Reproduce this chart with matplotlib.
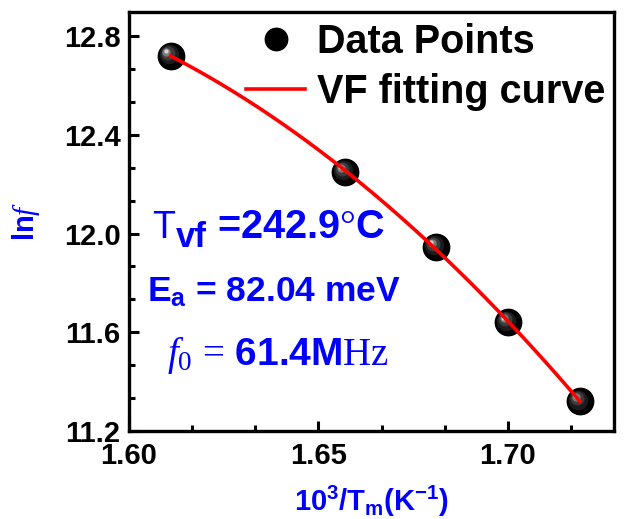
import numpy as np
import matplotlib
matplotlib.use("Agg")
import matplotlib.pyplot as plt
from matplotlib.ticker import MultipleLocator, FormatStrFormatter
from matplotlib.transforms import offset_copy

# data
inv_tm = [1.611, 1.657, 1.681, 1.700, 1.719]
ln_f = [12.72, 12.25, 11.945, 11.64, 11.32]

BLUE = "#0000ff"

plt.rcParams["font.family"] = "Liberation Sans"
plt.rcParams["font.weight"] = "bold"
plt.rcParams["mathtext.fontset"] = "custom"
plt.rcParams["mathtext.rm"] = "Liberation Sans:weight=bold"
plt.rcParams["mathtext.bf"] = "Liberation Sans:weight=bold"
plt.rcParams["mathtext.it"] = "Liberation Serif:style=italic:weight=normal"
plt.rcParams["mathtext.sf"] = "Liberation Sans:weight=normal"
plt.rcParams["mathtext.cal"] = "Liberation Serif:weight=normal"

fig = plt.figure(figsize=(6.26, 5.19), dpi=100)
ax = fig.add_axes([0.206, 0.1696, 0.775, 0.807])

x = np.array(inv_tm)
y = np.array(ln_f)

# shiny black spheres
pts, = ax.plot(x, y, "o", ms=19, color="black", zorder=3, label="Data Points")
shades = [("#1c1c1c", 14, -1.2, 1.2), ("#3c3c3c", 10, -2.2, 2.2),
          ("#7a7a7a", 6, -3.0, 3.0), ("#d5d5d5", 3, -3.5, 3.5)]
for col, ms, dx, dy in shades:
    tr = offset_copy(ax.transData, fig=fig, x=dx, y=dy, units="points")
    ax.plot(x, y, "o", ms=ms, color=col, mec="none", transform=tr, zorder=4)

# fitted curve (quadratic through the data points), drawn over the spheres
coef = np.polyfit(x, y, 2)
xf = np.linspace(x.min(), x.max(), 200)
fit, = ax.plot(xf, np.polyval(coef, xf), color="red", lw=2.6, zorder=5,
               label="VF fitting curve")

ax.set_xlim(1.60, 1.728)
ax.set_ylim(11.2, 12.897)
ax.xaxis.set_major_locator(MultipleLocator(0.05))
ax.xaxis.set_minor_locator(MultipleLocator(0.05 / 3))
ax.yaxis.set_major_locator(MultipleLocator(0.4))
ax.yaxis.set_minor_locator(MultipleLocator(0.4 / 3))
ax.xaxis.set_major_formatter(FormatStrFormatter("%.2f"))
ax.yaxis.set_major_formatter(FormatStrFormatter("%.1f"))

ax.tick_params(which="both", direction="in", width=2.2, top=False, right=False)
ax.tick_params(which="major", length=7.5, labelsize=21)
ax.tick_params(which="minor", length=4)
ax.tick_params(axis="y", pad=6)
ax.tick_params(axis="x", pad=8)
for s in ax.spines.values():
    s.set_linewidth(2.4)

ax.set_xlabel(r"$\mathrm{10^3/T_m(K^{-1})}$", color=BLUE, fontsize=21, labelpad=10)
ax.set_ylabel(r"$\mathrm{ln}\mathit{f}$", color=BLUE, fontsize=21, labelpad=16)

ax.legend([pts, fit], ["Data Points", "VF fitting curve"], loc="upper right",
          frameon=False, fontsize=28.5, handlelength=1.5, handletextpad=0.3,
          labelspacing=0.3, borderaxespad=0.0, bbox_to_anchor=(1.015, 1.012),
          markerscale=0.85)

# T_vf line built from pieces so the subscript keeps full size
t1 = ax.text(0.047, 0.442, "T", transform=ax.transAxes, color=BLUE,
             fontsize=27, fontweight="normal", va="bottom", ha="left")
t2 = ax.annotate("vf", xy=(1, 0), xycoords=t1, xytext=(1, -6),
                 textcoords="offset points", color=BLUE, fontsize=25,
                 va="bottom", ha="left")
ax.annotate(r"=242.9$\mathcal{°}$C", xy=(1, 0), xycoords=t2, xytext=(7, 6),
            textcoords="offset points", color=BLUE, fontsize=28.5,
            va="bottom", ha="left")

ax.text(0.037, 0.33, r"E$_{\mathrm{a}}$ = 82.04 meV", transform=ax.transAxes,
        color=BLUE, fontsize=25.5, va="center", ha="left")
ax.text(0.078, 0.18, r"$\mathit{f}_{\mathcal{0}}\,\mathcal{=}\,$61.4M$\mathcal{Hz}$",
        transform=ax.transAxes, color=BLUE, fontsize=28, va="center", ha="left")

fig.savefig("out.png", dpi=100)
